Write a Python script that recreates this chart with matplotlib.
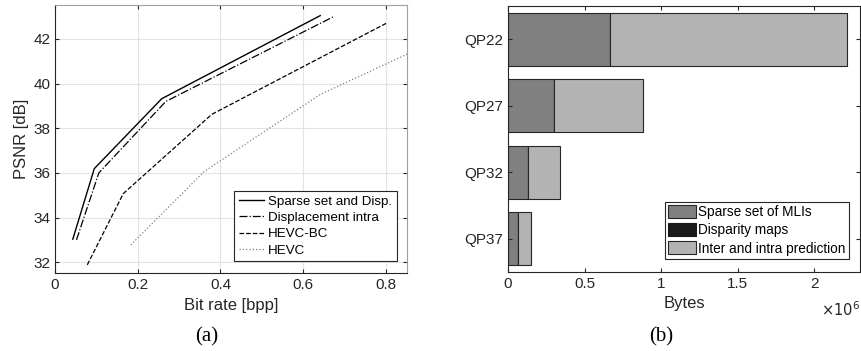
import numpy as np
import matplotlib.pyplot as plt
from matplotlib.ticker import FuncFormatter

plt.rcParams["font.family"] = ["Liberation Sans", "DejaVu Sans"]
plt.rcParams["font.size"] = 10

# (a) rate-distortion curves
sparse_rate = [0.043, 0.095, 0.258, 0.641]
sparse_psnr = [33.03, 36.19, 39.32, 43.04]
disp_rate = [0.052, 0.106, 0.268, 0.674]
disp_psnr = [33.0, 36.0, 39.2, 43.0]
hevcbc_rate = [0.078, 0.165, 0.379, 0.800]
hevcbc_psnr = [31.88, 35.07, 38.62, 42.69]
hevc_rate = [0.183, 0.360, 0.641, 0.960]
hevc_psnr = [32.77, 36.05, 39.51, 42.25]

# (b) bit allocation per QP
qp_labels = ["QP22", "QP27", "QP32", "QP37"]
sparse_bytes = [0.664e6, 0.301e6, 0.133e6, 0.063e6]
disparity_bytes = [0.004e6, 0.002e6, 0.001e6, 0.001e6]
inter_bytes = [1.548e6, 0.577e6, 0.206e6, 0.086e6]

fig = plt.figure(figsize=(8.62, 3.51), dpi=100)

# ---- left panel
ax1 = fig.add_axes([0.0638, 0.2212, 0.4080, 0.7636])
ax1.plot(sparse_rate, sparse_psnr, "-", color="black", lw=1.0,
         label="Sparse set and Disp.")
ax1.plot(disp_rate, disp_psnr, "-.", color="black", lw=0.9,
         label="Displacement intra")
ax1.plot(hevcbc_rate, hevcbc_psnr, "--", color="black", lw=0.9,
         label="HEVC-BC")
ax1.plot(hevc_rate, hevc_psnr, ":", color="0.5", lw=0.9, label="HEVC")
ax1.set_xlim(0, 0.85)
ax1.set_ylim(31.5, 43.5)
ax1.set_xticks([0, 0.2, 0.4, 0.6, 0.8])
ax1.set_xticklabels(["0", "0.2", "0.4", "0.6", "0.8"])
ax1.set_yticks([32, 34, 36, 38, 40, 42])
ax1.grid(True, color="#e3e3e3", lw=0.8)
ax1.set_axisbelow(True)
ax1.tick_params(direction="in", top=True, right=True, length=3,
                color="#262626", labelcolor="#262626", labelsize=11)
for side in ["top", "right"]:
    ax1.spines[side].set_color("#a0a0a0")
for side in ["left", "bottom"]:
    ax1.spines[side].set_color("#262626")
ax1.set_xlabel("Bit rate [bpp]", fontsize=12, color="#262626", labelpad=4)
ax1.set_ylabel("PSNR [dB]", fontsize=12, color="#262626", labelpad=3)
leg1 = ax1.legend(loc="lower right", bbox_to_anchor=(0.972, 0.045),
                  borderaxespad=0, fancybox=False, edgecolor="#262626",
                  framealpha=1, handlelength=1.9, handletextpad=0.3,
                  borderpad=0.35, labelspacing=0.3, fontsize=9.6)
leg1.get_frame().set_linewidth(0.8)
fig.text(0.240, 0.028, "(a)", family="Liberation Serif", fontsize=15,
         ha="center")

# ---- right panel
ax2 = fig.add_axes([0.5893, 0.2251, 0.4084, 0.7578])
y = np.arange(len(qp_labels))
left2 = np.array(sparse_bytes) + np.array(disparity_bytes)
ax2.barh(y, sparse_bytes, height=0.8, color="#808080", edgecolor="#262626",
         lw=0.8, label="Sparse set of MLIs")
ax2.barh(y, disparity_bytes, left=sparse_bytes, height=0.8, color="#1a1a1a",
         edgecolor="#1a1a1a", lw=0.8, label="Disparity maps")
ax2.barh(y, inter_bytes, left=left2, height=0.8, color="#b3b3b3",
         edgecolor="#262626", lw=0.8, label="Inter and intra prediction")
ax2.set_ylim(len(qp_labels) - 0.5, -0.5)
ax2.set_yticks(y)
ax2.set_yticklabels(qp_labels)
ax2.set_xlim(0, 2.3e6)
ax2.set_xticks([0, 0.5e6, 1e6, 1.5e6, 2e6])
ax2.xaxis.set_major_formatter(FuncFormatter(lambda v, p: f"{v / 1e6:g}"))
ax2.tick_params(direction="in", top=True, right=True, length=3,
                color="#262626", labelcolor="#262626", labelsize=11)
for side in ax2.spines.values():
    side.set_color("#262626")
ax2.set_xlabel("Bytes", fontsize=12, color="#262626", labelpad=4)
ax2.text(1.0, -0.105, r"$\times10^{6}$", transform=ax2.transAxes,
         ha="right", va="top", fontsize=10.5, color="#262626")
leg2 = ax2.legend(loc="lower right", bbox_to_anchor=(0.969, 0.049),
                  borderaxespad=0, fancybox=False, edgecolor="#262626",
                  framealpha=1, handlelength=2.0, handleheight=1.1,
                  handletextpad=0.2, borderpad=0.25, labelspacing=0.3,
                  fontsize=9.8)
leg2.get_frame().set_linewidth(0.8)
fig.text(0.767, 0.028, "(b)", family="Liberation Serif", fontsize=15,
         ha="center")

fig.savefig("out.png", dpi=100)
